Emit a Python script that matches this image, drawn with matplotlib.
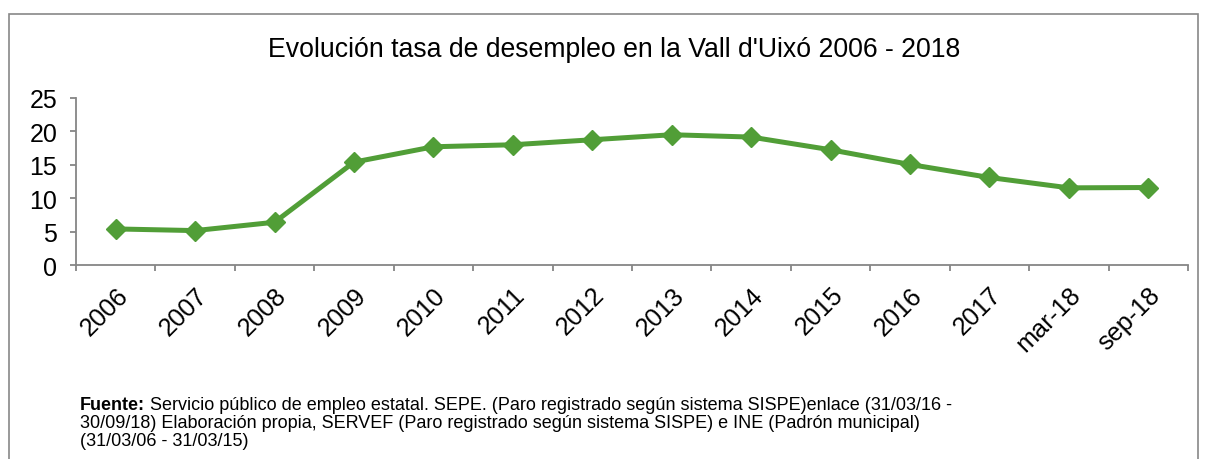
import matplotlib
matplotlib.use('Agg')
import numpy as np
from matplotlib import pyplot as plt
from matplotlib.patches import Rectangle
from matplotlib.transforms import ScaledTranslation

# Data
categories = ['2006', '2007', '2008', '2009', '2010', '2011', '2012',
              '2013', '2014', '2015', '2016', '2017', 'mar-18', 'sep-18']
tasa = [5.4, 5.15, 6.4, 15.4, 17.7, 18.0, 18.75,
        19.5, 19.15, 17.25, 15.05, 13.1, 11.55, 11.6]
y_ticks = [0, 5, 10, 15, 20, 25]

title = "Evolución tasa de desempleo en la Vall d'Uixó 2006 - 2018"
fuente_1 = " Servicio público de empleo estatal. SEPE. (Paro registrado según sistema SISPE)enlace (31/03/16 -"
fuente_2 = "30/09/18) Elaboración propia, SERVEF (Paro registrado según sistema SISPE) e INE (Padrón municipal)"
fuente_3 = "(31/03/06 - 31/03/15)"

plt.rcParams['font.family'] = ['Liberation Sans', 'DejaVu Sans']

W, H = 1206, 460
fig = plt.figure(figsize=(W / 100, H / 100), dpi=100)

# outer border of the chart area
fig.patches.append(Rectangle((9 / W, -0.01), 1189 / W, 1 - 15 / H + 0.01,
                             transform=fig.transFigure, fill=False,
                             edgecolor='#878787', linewidth=1.2))

ax = fig.add_axes([76 / W, 1 - 266 / H, (1188 - 76) / W, (266 - 99) / H])

green = '#519E37'
gray = '#868686'
x = np.arange(len(categories))
ax.plot(x, tasa, color=green, linewidth=3.6, marker='D', markersize=10,
        markeredgecolor=green, markerfacecolor=green, solid_joinstyle='miter')

ax.set_xlim(-0.5, len(categories) - 0.5)
ax.set_ylim(0, 25)
ax.set_yticks(y_ticks)
ax.set_yticklabels([str(v) for v in y_ticks], fontsize=18)

# ticks between categories, labels at category centres
ax.set_xticks(np.arange(len(categories) + 1) - 0.5)
ax.set_xticklabels([])
ax.set_xticks(x, minor=True)
ax.set_xticklabels(categories, minor=True, rotation=45, ha='right', va='top',
                   rotation_mode='anchor', fontsize=18.2)
shift = ScaledTranslation(-4 / 100, 0, fig.dpi_scale_trans)
for lab in ax.get_xticklabels(minor=True):
    lab.set_transform(lab.get_transform() + shift)
ax.tick_params(axis='x', which='minor', length=0, pad=12.5)
ax.tick_params(axis='x', which='major', length=4.5, color=gray, width=1.3)
ax.tick_params(axis='y', length=4.5, color=gray, width=1.3, pad=9)

for s in ['top', 'right']:
    ax.spines[s].set_visible(False)
for s in ['left', 'bottom']:
    ax.spines[s].set_color(gray)
    ax.spines[s].set_linewidth(1.3)

fig.text(614 / W, 1 - 50 / H, title, ha='center', va='center', fontsize=19.2)

# source note
fs = 13
t1 = fig.text(80 / W, 1 - 414 / H, "Fuente:", fontsize=fs, weight='bold',
              va='bottom')
ax.annotate(fuente_1, xy=(1, 0), xycoords=t1, va='bottom', ha='left',
            fontsize=fs, annotation_clip=False)
fig.text(80 / W, 1 - 432 / H, fuente_2, fontsize=fs, va='bottom')
fig.text(80 / W, 1 - 450 / H, fuente_3, fontsize=fs, va='bottom')

fig.savefig('out.png', dpi=100)
